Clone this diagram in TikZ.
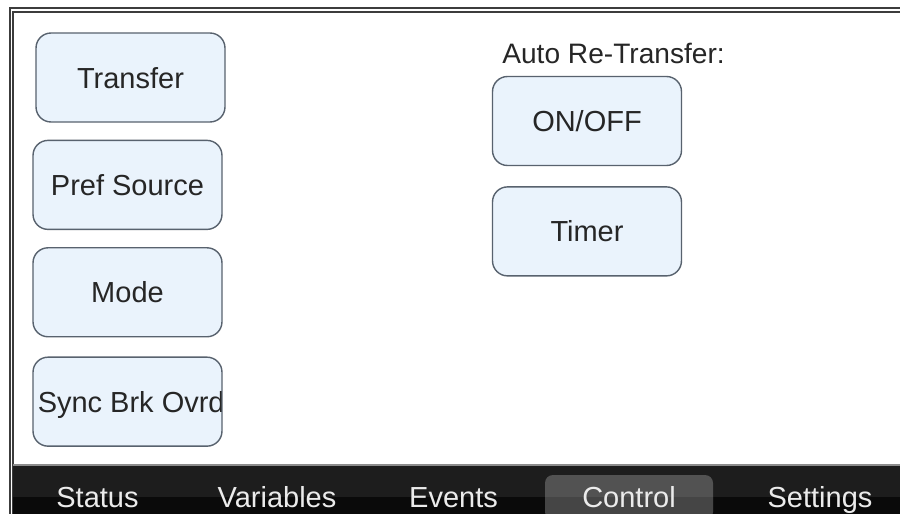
\documentclass[tikz,border=0pt]{standalone}
\usepackage{fontspec}
\setmainfont{Liberation Sans}
\usetikzlibrary{positioning}
\definecolor{btnfill}{HTML}{EAF3FC}
\definecolor{btnline}{HTML}{58626E}
\definecolor{framecol}{HTML}{3C3C3C}
\definecolor{barcol}{HTML}{1D1D1D}
\definecolor{tabcol}{HTML}{525252}
\tikzset{btn/.style={draw=btnline, fill=btnfill, line width=0.8pt, rounded corners=0.3cm,
    minimum width=3.78cm, minimum height=1.78cm, text=black!85,
    font=\fontsize{16.5}{19}\selectfont, text height=12pt, text depth=0pt},
  tablabel/.style={anchor=base, text=black!8, font=\fontsize{16.5}{19}\selectfont}}

\begin{document}
\begin{tikzpicture}[x=0.02cm, y=-0.02cm, node distance=0.34cm]
            \useasboundingbox[fill=white] (0,0) rectangle (900,514);
            \draw[framecol, line width=0.8pt] (900,8) -| (10,514) (900,12) -| (13,514);
            \fill[barcol] (13,465) rectangle (900,497);
            \fill[black!96] (13,497) rectangle (900,514);
            \draw[black!45, line width=0.6pt] (13,465) -- (900,465);
            \begin{scope}
                  \clip (13,465) rectangle (900,514);
                  \fill[tabcol, rounded corners=0.16cm] (545,475) rectangle (713,520);
                  \fill[black, opacity=0.15] (545,497) rectangle (713,514);
            \end{scope}
            \node[btn] (transfer) at (130.5,77.5) {Transfer};
            \node[btn, below=of transfer, xshift=-0.06cm] (pref_source) {Pref Source};
            \node[btn, below=of pref_source] (mode) {Mode};
            \node[btn, below=0.38cm of mode, path picture={\node[anchor=west, inner sep=0pt, text=black!85, font=\fontsize{16.5}{19}\selectfont,
                  text height=12pt, text depth=0pt] at ([xshift=0.06cm]path picture bounding box.west) {Sync Brk Ovrd};}] (sync_brk) {};
            \node[anchor=base west, inner sep=0pt, text=black!85, font=\fontsize{16}{19}\selectfont] (auto_label) at (502,63) {Auto Re-Transfer:};
            \node[btn] (on_off) at (587,121) {ON/OFF};
            \node[btn, below=0.4cm of on_off] (timer) {Timer};
            \node[tablabel] (status) at (97.5,507) {Status};
            \node[tablabel] (variables) at (277,507) {Variables};
            \node[tablabel] (events) at (453.5,507) {Events};
            \node[tablabel] (control) at (629,507) {Control};
            \node[tablabel] (settings) at (820,507) {Settings};
      \end{tikzpicture}
\end{document}
